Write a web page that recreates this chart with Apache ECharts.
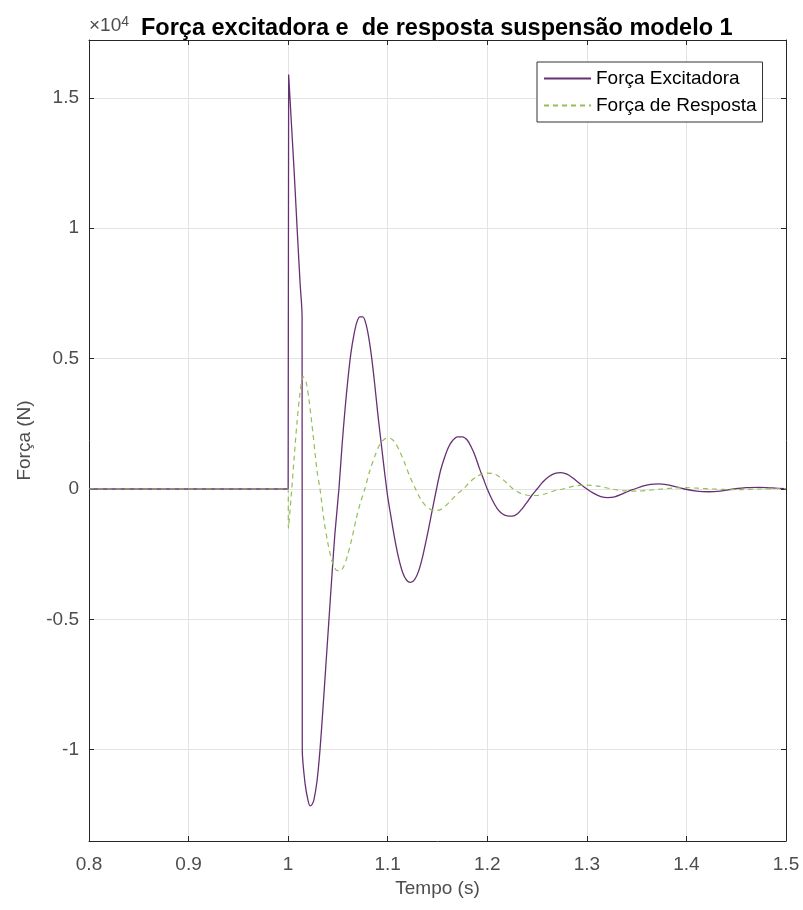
<!DOCTYPE html>
<html>
<head>
<meta charset="utf-8">
<script src="https://cdn.jsdelivr.net/npm/echarts@6/dist/echarts.min.js"></script>
<style>html,body{margin:0;padding:0;background:#fff}#c{width:803px;height:910px}</style>
</head>
<body>
<div id="c"></div>
<script>
// ---- data (time in s, force in N) ----
const titleText = 'Força excitadora e  de resposta suspensão modelo 1';
const xName = 'Tempo (s)';
const yName = 'Força (N)';
const seriesNames = ['Força Excitadora', 'Força de Resposta'];
const yTickValues = [-10000, -5000, 0, 5000, 10000, 15000];

const excTime = [0.8, 1.0, 1.0005, 1.003, 1.006, 1.009, 1.012, 1.014, 1.0142, 1.017, 1.020, 1.022, 1.024, 1.026, 1.029,
  1.032, 1.035, 1.038, 1.041, 1.044, 1.047, 1.051, 1.054, 1.057, 1.060, 1.063, 1.066, 1.069, 1.072, 1.075, 1.078, 1.081,
  1.084, 1.087, 1.090, 1.093, 1.097, 1.100, 1.103, 1.107, 1.111, 1.115, 1.119, 1.123, 1.127, 1.131, 1.135, 1.139, 1.143,
  1.149, 1.153, 1.157, 1.161, 1.165, 1.170, 1.175, 1.180, 1.184, 1.188, 1.192, 1.196, 1.200, 1.205, 1.210, 1.215, 1.220,
  1.225, 1.230, 1.235, 1.240, 1.245, 1.250, 1.256, 1.262, 1.268, 1.274, 1.280, 1.286, 1.293, 1.300, 1.307, 1.314, 1.321,
  1.328, 1.335, 1.342, 1.348, 1.356, 1.364, 1.372, 1.380, 1.388, 1.398, 1.410, 1.422, 1.434, 1.448, 1.460, 1.473, 1.486, 1.5];
const excForce = [0, 0, 15900, 14200, 12200, 10000, 7900, 6600, -10000, -11300, -11950, -12150, -12100, -11900, -11200,
  -10000, -8400, -6700, -5000, -3300, -1700, 0, 1600, 3000, 4200, 5200, 5900, 6400, 6600, 6600, 6350, 5800,
  5000, 4000, 2900, 1900, 600, -300, -1000, -1900, -2650, -3200, -3500, -3580, -3480, -3150, -2600, -1900, -1150,
  0, 700, 1200, 1600, 1850, 2000, 2000, 1870, 1600, 1250, 800, 400, 0, -420, -750, -950, -1030,
  -1040, -960, -760, -500, -230, 0, 280, 480, 600, 630, 570, 420, 200, 0, -170, -290, -330,
  -300, -200, -80, 0, 110, 180, 200, 170, 100, 0, -80, -105, -80, 0, 50, 60, 40, 10];

const respTime = [0.8, 1.0, 1.0003, 1.003, 1.006, 1.009, 1.012, 1.015, 1.018, 1.021, 1.025, 1.029, 1.032, 1.036, 1.040,
  1.044, 1.048, 1.052, 1.056, 1.060, 1.064, 1.068, 1.072, 1.077, 1.082, 1.087, 1.092, 1.097, 1.102, 1.107, 1.112, 1.117,
  1.122, 1.128, 1.133, 1.138, 1.143, 1.148, 1.153, 1.158, 1.164, 1.170, 1.176, 1.182, 1.188, 1.194, 1.200, 1.205, 1.211,
  1.217, 1.222, 1.226, 1.232, 1.238, 1.244, 1.250, 1.257, 1.264, 1.270, 1.276, 1.287, 1.300, 1.313, 1.325, 1.338, 1.350,
  1.362, 1.375, 1.388, 1.400, 1.412, 1.425, 1.450, 1.475, 1.5];
const respForce = [0, 0, -1500, -300, 1200, 2600, 3700, 4300, 4100, 3400, 2100, 700, 0, -1200, -2100,
  -2750, -3100, -3150, -2950, -2500, -1900, -1200, -600, 0, 700, 1250, 1700, 1920, 1950, 1800, 1450, 1000,
  500, 0, -380, -640, -780, -820, -790, -650, -420, -180, 0, 250, 440, 560, 610, 600, 500,
  320, 140, 0, -140, -220, -250, -250, -200, -110, -40, 0, 110, 150, 100, 0, -70, -80,
  -50, 0, 40, 50, 30, 0, -25, 0, 15];

const excData = excTime.map((t, i) => [t, excForce[i]]);
const respData = respTime.map((t, i) => [t, respForce[i]]);

const FONT = 'Liberation Sans, Arial, sans-serif';
const AX = '#262626';
const LBL = '#4d4d4d';
const GRID = '#e3e3e3';

const chart = echarts.init(document.getElementById('c'), null, {renderer: 'canvas'});
chart.setOption({
  animation: false,
  backgroundColor: '#ffffff',
  title: {
    text: titleText, left: 136, top: 12,
    textStyle: {fontFamily: FONT, fontSize: 23.5, fontWeight: 'bold', color: '#000'}
  },
  graphic: [{
    type: 'text', left: 89, top: 15,
    style: {
      text: '×10{s|4}', fontFamily: FONT, fontSize: 19, fill: LBL,
      rich: {s: {fontSize: 14, verticalAlign: 'top', padding: [0, 0, 8, 0], fill: LBL, fontFamily: FONT}}
    }
  }],
  legend: {
    orient: 'vertical', left: 537, top: 62,
    padding: [7, 6, 7, 6], itemGap: 8, itemWidth: 47, itemHeight: 14,
    borderColor: '#333', borderWidth: 1, backgroundColor: '#fff',
    itemStyle: {opacity: 0},
    textStyle: {fontFamily: FONT, fontSize: 19, color: '#000'},
    data: seriesNames
  },
  grid: {left: 89, right: 17, top: 40, bottom: 69, containLabel: false},
  xAxis: [{
    type: 'value', min: 0.8, max: 1.5, interval: 0.1,
    name: xName, nameLocation: 'middle', nameGap: 33,
    nameTextStyle: {fontFamily: FONT, fontSize: 19, color: LBL},
    axisLine: {show: true, onZero: false, lineStyle: {color: AX, width: 1}},
    axisTick: {show: true, inside: true, length: 5, lineStyle: {color: AX}},
    axisLabel: {fontFamily: FONT, fontSize: 19, color: LBL, margin: 14},
    splitLine: {show: true, lineStyle: {color: GRID, width: 1}}
  }, {
    type: 'value', min: 0.8, max: 1.5, interval: 0.1, position: 'top',
    axisLine: {show: true, onZero: false, lineStyle: {color: AX, width: 1}},
    axisTick: {show: true, inside: true, length: 5, lineStyle: {color: AX}},
    axisLabel: {show: false}, splitLine: {show: false}
  }],
  yAxis: [{
    type: 'value', min: -13500, max: 17220,
    name: yName, nameLocation: 'middle', nameGap: 55, nameRotate: 90,
    nameTextStyle: {fontFamily: FONT, fontSize: 19, color: LBL},
    axisLine: {show: true, onZero: false, lineStyle: {color: AX, width: 1}},
    axisTick: {show: true, inside: true, length: 5, lineStyle: {color: AX}, customValues: yTickValues},
    axisLabel: {fontFamily: FONT, fontSize: 19, color: LBL, margin: 10, customValues: yTickValues,
      formatter: v => String(Math.round(v / 1000) / 10)},
    splitLine: {show: true, lineStyle: {color: GRID, width: 1}}
  }, {
    type: 'value', min: -13500, max: 17220, position: 'right',
    axisLine: {show: true, onZero: false, lineStyle: {color: AX, width: 1}},
    axisTick: {show: true, inside: true, length: 5, lineStyle: {color: AX}, customValues: yTickValues},
    axisLabel: {show: false, customValues: yTickValues}, splitLine: {show: false}
  }],
  series: [{
    name: seriesNames[0], type: 'line', data: excData, xAxisIndex: 0, yAxisIndex: 0,
    showSymbol: false, symbol: 'none', smooth: 0.3,
    lineStyle: {color: '#673073', width: 1.3}, itemStyle: {color: '#673073'}
  }, {
    name: seriesNames[1], type: 'line', data: respData, xAxisIndex: 0, yAxisIndex: 0,
    showSymbol: false, symbol: 'none', smooth: 0.3,
    lineStyle: {color: '#93bf55', width: 1.2, type: [5, 4]}, itemStyle: {color: '#93bf55'}
  }]
});
</script>
</body>
</html>
